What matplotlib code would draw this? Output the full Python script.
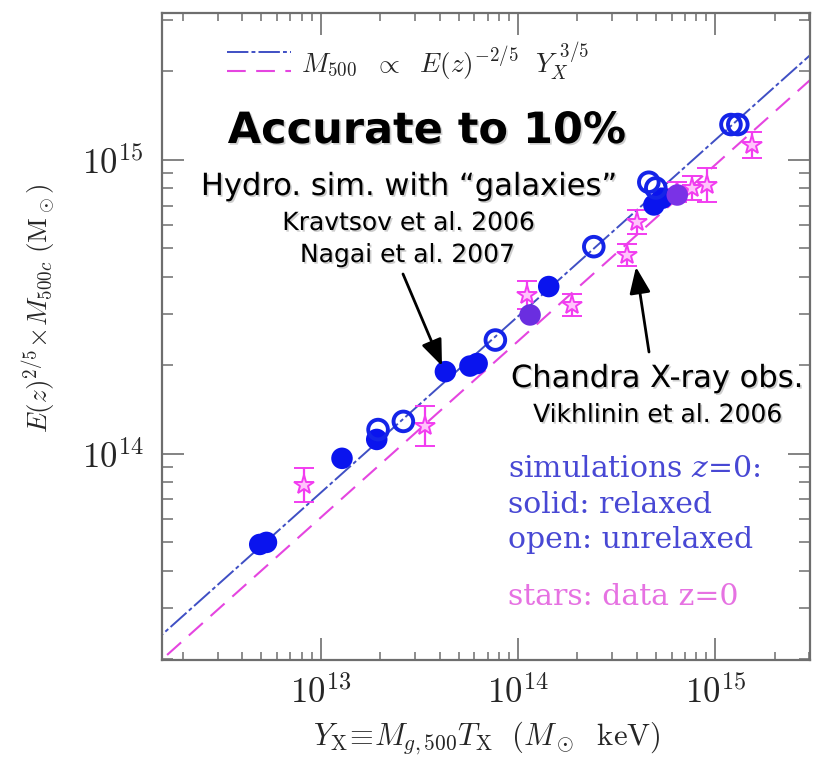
import matplotlib
matplotlib.use("Agg")
import matplotlib.pyplot as plt
import matplotlib.patheffects as pe
from matplotlib import ticker
from matplotlib.lines import Line2D
import numpy as np

# ---------------------------------------------------------------- data
# simulated clusters, relaxed (solid symbols): Y_X [Msun keV], M500 [Msun]
relaxed_yx = [4.9e12, 5.3e12, 1.28e13, 1.92e13, 4.28e13, 5.7e13, 6.2e13,
              1.15e14, 1.43e14, 4.88e14, 5.38e14, 6.41e14]
relaxed_m = [4.92e13, 5.0e13, 9.66e13, 1.12e14, 1.905e14, 1.99e14, 2.03e14,
             2.97e14, 3.71e14, 7.03e14, 7.41e14, 7.6e14]

# simulated clusters, unrelaxed (open symbols)
unrelaxed_yx = [1.95e13, 2.62e13, 7.67e13, 2.42e14, 4.6e14, 4.99e14,
                1.2e15, 1.3e15]
unrelaxed_m = [1.21e14, 1.29e14, 2.44e14, 5.07e14, 8.4e14, 8.03e14,
               1.32e15, 1.32e15]

# Chandra clusters (stars) with mass error bars
obs_yx = [8.2e12, 3.39e13, 1.11e14, 1.88e14, 3.57e14, 4.02e14, 6.41e14,
          7.64e14, 9.1e14, 1.54e15]
obs_m = [7.85e13, 1.24e14, 3.48e14, 3.21e14, 4.75e14, 6.17e14, 7.8e14,
         8.01e14, 8.22e14, 1.125e15]
obs_m_lo = [6.87e13, 1.06e14, 3.12e14, 2.95e14, 4.37e14, 5.62e14, 7.21e14,
            7.29e14, 7.2e14, 1.015e15]
obs_m_hi = [8.97e13, 1.45e14, 3.88e14, 3.49e14, 5.17e14, 6.78e14, 8.44e14,
            8.8e14, 9.38e14, 1.247e15]

# power-law fits M = A (Y_X / 1e14)^slope
fit_slope = 0.6
fit_pivot = 1e14
fit_norm_sim = 2.94e14
fit_norm_obs = 2.42e14

x_ticks = [1e13, 1e14, 1e15]
y_ticks = [1e14, 1e15]

# ---------------------------------------------------------------- figure
W, H = 816, 763
plt.rcParams["mathtext.fontset"] = "cm"
fig = plt.figure(figsize=(W / 100, H / 100), dpi=100)
fig.patch.set_facecolor("white")


def fx(x):
    return x / W


def fy(y):
    return 1 - y / H


ax = fig.add_axes([fx(161.7), fy(660), (810.3 - 161.7) / W, (660 - 12.7) / H])
ax.set_xscale("log")
ax.set_yscale("log")
ax.set_xlim(1.56e12, 3.03e15)
ax.set_ylim(1.99e13, 3.17e15)

frame_col = "#6e6e6e"
for s in ax.spines.values():
    s.set_color(frame_col)
    s.set_linewidth(1.6)

ax.xaxis.set_major_locator(ticker.FixedLocator(x_ticks))
ax.yaxis.set_major_locator(ticker.FixedLocator(y_ticks))
ax.xaxis.set_minor_locator(ticker.LogLocator(base=10, subs=np.arange(2, 10), numticks=20))
ax.yaxis.set_minor_locator(ticker.LogLocator(base=10, subs=np.arange(2, 10), numticks=20))
pow_fmt = ticker.FuncFormatter(lambda v, p: r"$10^{%d}$" % round(np.log10(v)))
ax.xaxis.set_major_formatter(pow_fmt)
ax.yaxis.set_major_formatter(pow_fmt)
ax.xaxis.set_minor_formatter(ticker.NullFormatter())
ax.yaxis.set_minor_formatter(ticker.NullFormatter())
ax.tick_params(which="both", direction="in", top=True, right=True,
               color=frame_col, labelcolor="#262626")
ax.tick_params(which="major", length=16, width=1.2, labelsize=25)
ax.tick_params(axis="x", which="major", pad=11)
ax.tick_params(axis="y", which="major", pad=13)
ax.tick_params(axis="x", which="minor", length=6, width=1.1)
ax.tick_params(axis="y", which="minor", length=8, width=1.1)

# fitted relations
yx_line = np.array([1e12, 1e16])
ax.plot(yx_line, fit_norm_sim * (yx_line / fit_pivot) ** fit_slope,
        color="#3f4fc4", lw=1.4, dashes=(11, 1.6, 2, 1.6), zorder=1)
ax.plot(yx_line, fit_norm_obs * (yx_line / fit_pivot) ** fit_slope,
        color="#e545e0", lw=1.5, dashes=(9, 5), zorder=1)

# observed clusters
obs_m_arr = np.array(obs_m)
yerr = [obs_m_arr - np.array(obs_m_lo), np.array(obs_m_hi) - obs_m_arr]
ax.errorbar(obs_yx, obs_m, yerr=yerr, fmt="*", ms=15, mfc="#ffc4fb",
            mec="#f23cf0", mew=1.4, ecolor="#f23cf0", elinewidth=1.6,
            capsize=7, capthick=1.6, zorder=2)

# simulated clusters
relaxed_cols = ["#0a14ee"] * len(relaxed_yx)
relaxed_cols[7] = "#6a2ee0"
relaxed_cols[11] = "#7a32e6"
ax.scatter(relaxed_yx, relaxed_m, s=240, c=relaxed_cols, edgecolors="none",
           zorder=3)
ax.scatter(unrelaxed_yx, unrelaxed_m, s=200, facecolors="none",
           edgecolors="#1424e8", linewidths=2.8, zorder=3)

# axis titles
fig.text(fx(487), fy(738),
         r"$Y_{\rm X}\!\equiv\! M_{g,500}T_{\rm X}\ \ (M_\odot\ \ {\rm keV})$",
         fontsize=22, ha="center", va="center", color="#262626")
fig.text(fx(40), fy(308),
         r"$E(z)^{2/5}\!\times\! M_{500c}\ ({\rm M}_\odot)$",
         fontsize=19.5, ha="center", va="center", rotation=90, color="#262626")

# legend for the fitted relations
fig.add_artist(Line2D([fx(227), fx(291)], [fy(52), fy(52)], color="#3f4fc4",
                      lw=1.4, dashes=(11, 1.6, 2, 1.6)))
fig.add_artist(Line2D([fx(227), fx(291)], [fy(71), fy(71)], color="#e545e0",
                      lw=1.5, dashes=(9, 5)))
fig.text(fx(301), fy(62),
         r"$M_{500}\ \ \propto\ \ E(z)^{-2/5}\ \ Y_X^{\ 3/5}$",
         fontsize=19.5, ha="left", va="center", color="#262626")

# symbol key
key_kw = dict(fontsize=21.5, family="DejaVu Serif", ha="left", va="baseline",
              math_fontfamily="dejavuserif")
fig.text(fx(508), fy(477), r"simulations $z$=$\mathit{0}$:", color="#4848d4", **key_kw)
fig.text(fx(508), fy(513), "solid: relaxed", color="#4848d4", **key_kw)
fig.text(fx(508), fy(548), "open: unrelaxed", color="#4848d4", **key_kw)
fig.text(fx(508), fy(605), "stars: data z=0", color="#e672e2", **key_kw)

# annotations
shadow = [pe.withSimplePatchShadow(offset=(1.2, -1.2), shadow_rgbFace="0.45",
                                   alpha=0.35)]
ann_kw = dict(family="DejaVu Sans", ha="center", va="baseline", color="black",
              path_effects=shadow)
fig.text(fx(426.7), fy(143), "Accurate to 10%", fontsize=31, weight="bold",
         **ann_kw)
fig.text(fx(408.7), fy(195), "Hydro. sim. with \u201cgalaxies\u201d",
         fontsize=22, **ann_kw)
fig.text(fx(408.7), fy(230), "Kravtsov et al. 2006", fontsize=18, **ann_kw)
fig.text(fx(407.5), fy(262), "Nagai et al. 2007", fontsize=18, **ann_kw)
fig.text(fx(657), fy(387), "Chandra X-ray obs.", fontsize=22, **ann_kw)
fig.text(fx(658), fy(422), "Vikhlinin et al. 2006", fontsize=18, **ann_kw)

arrow_kw = dict(arrowstyle="-|>,head_length=0.8,head_width=0.32",
                color="black", lw=2.0, mutation_scale=20, shrinkA=0, shrinkB=0)
ax.annotate("", xy=(fx(442), fy(366)), xycoords="figure fraction",
            xytext=(fx(403), fy(274)), textcoords="figure fraction",
            arrowprops=arrow_kw)
ax.annotate("", xy=(fx(636), fy(267)), xycoords="figure fraction",
            xytext=(fx(649), fy(352)), textcoords="figure fraction",
            arrowprops=arrow_kw)

fig.savefig("out.png", dpi=100, facecolor="white")
